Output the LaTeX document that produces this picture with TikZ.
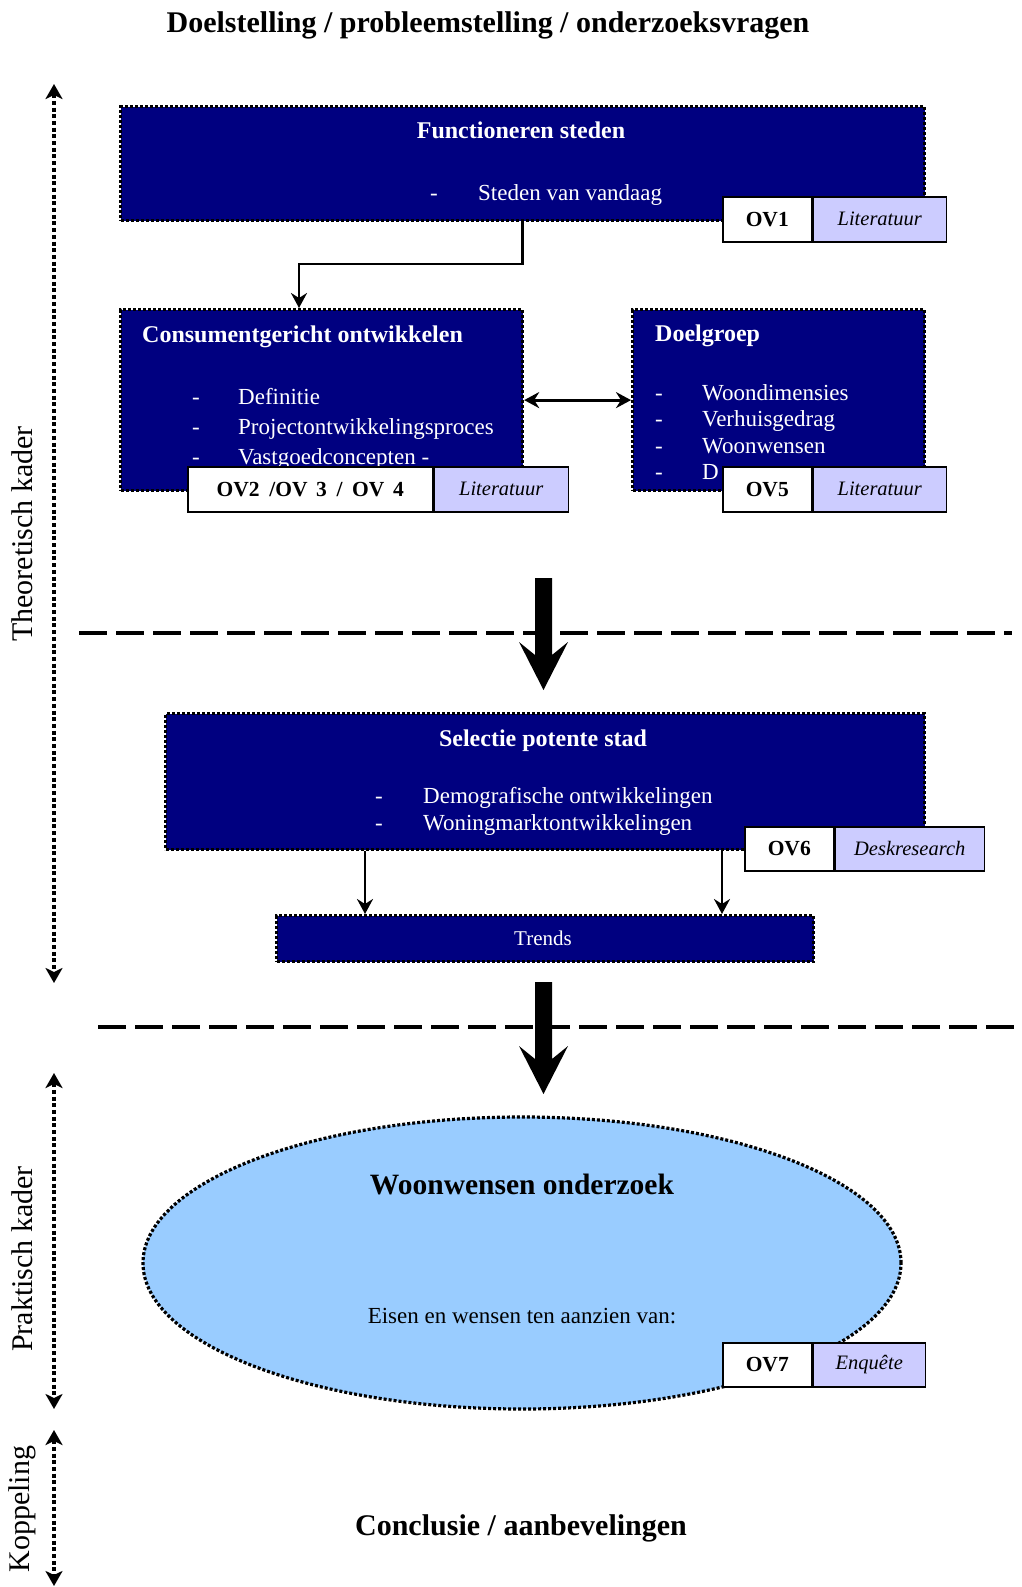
\documentclass[tikz,border=0pt]{standalone}
\usepackage{fontspec}
\setmainfont{Liberation Serif}
\usetikzlibrary{arrows.meta,shapes.geometric,calc}
\definecolor{navy}{RGB}{0,0,128}
\definecolor{ellblue}{RGB}{153,204,255}
\definecolor{lav}{RGB}{204,204,255}
\begin{document}
\begin{tikzpicture}[x=1pt,y=-1pt,
 dotborder/.style={draw=black,line width=3.2pt,dash pattern=on 3pt off 2pt},
 navybox/.style={dotborder,fill=navy,anchor=north west,inner sep=0pt},
 wt/.style={text=white,inner sep=0pt},
 ttl/.style={wt,font=\fontsize{24}{28}\selectfont\bfseries},
 itm/.style={wt,font=\fontsize{23}{27}\selectfont,anchor=mid west},
 tagl/.style={draw=black,line width=1.5pt,fill=white,anchor=north west,inner sep=0pt,font=\fontsize{21.5}{25}\selectfont\bfseries},
 tagr/.style={draw=black,line width=1.5pt,fill=lav,anchor=north west,inner sep=0pt,font=\fontsize{20.5}{24}\selectfont\itshape},
 conn/.style={line width=2.8pt,-{Stealth[length=15pt,width=16pt,inset=5pt]}},
 dconn/.style={line width=2.8pt,{Stealth[length=15pt,width=16pt,inset=5pt]}-{Stealth[length=15pt,width=16pt,inset=5pt]}},
 sidearrow/.style={line width=3.5pt,dash pattern=on 4pt off 2.7pt,{Stealth[length=15pt,width=17pt,inset=4pt]}-{Stealth[length=15pt,width=17pt,inset=4pt]}},
 sidelbl/.style={rotate=90,font=\fontsize{30}{34}\selectfont,inner sep=0pt},
 sepline/.style={line width=4pt,dash pattern=on 28pt off 9pt},
 bigarrow/.style={fill=black},
 head/.style={font=\fontsize{30}{34}\selectfont\bfseries,inner sep=0pt,anchor=mid},
]
\useasboundingbox (0,0) rectangle (1021,1587);

% title
\node[head] (title) at (488,30) {Doelstelling / probleemstelling / onderzoeksvragen};

% side arrows
\coordinate (s1a) at (54,84);
\coordinate (s1b) at (54,983);
\coordinate (s2a) at (54,1073);
\coordinate (s2b) at (54,1409);
\coordinate (s3a) at (54,1430);
\coordinate (s3b) at (54,1586);
\draw[sidearrow] (s1a) -- (s1b);
\draw[sidearrow] (s2a) -- (s2b);
\draw[sidearrow] (s3a) -- (s3b);
\node[sidelbl] (lt) at (22,534) {Theoretisch kader};
\node[sidelbl] (lp) at (22,1259) {Praktisch kader};
\node[sidelbl] (lk) at (22,1509) {Koppeling};

% separators
\coordinate (sp1a) at (79,633);
\coordinate (sp1b) at (1012,633);
\coordinate (sp2a) at (98,1027);
\coordinate (sp2b) at (1020,1027);
\draw[sepline] (sp1a) -- (sp1b);
\draw[sepline] (sp2a) -- (sp2b);

% box 1
\node[navybox,minimum width=804pt,minimum height=114pt] (box1) at (119,105) {};
\node[ttl,anchor=mid] (t1) at (521,136) {Functioneren steden};
\node[itm] (d1) at (430,198) {-};
\node[itm] (i1) at (478,198) {Steden van vandaag};

% box 2
\node[navybox,minimum width=402pt,minimum height=181pt] (box2) at (119,308) {};
\node[ttl,anchor=mid west] (t2) at (142,340) {Consumentgericht ontwikkelen};
\node[itm] (d21) at (192,402) {-};
\node[itm] (d22) at (192,432) {-};
\node[itm] (d23) at (192,462) {-};
\node[itm] (i21) at (238,402) {Definitie};
\node[itm] (i22) at (238,432) {Projectontwikkelingsproces};
\node[itm] (i23) at (238,462) {Vastgoedconcepten -};

% box 3
\node[navybox,minimum width=292pt,minimum height=181pt] (box3) at (631,308) {};
\node[ttl,anchor=mid west] (t3) at (655,339) {Doelgroep};
\node[itm] (d31) at (655,398) {-};
\node[itm] (d32) at (655,424.5) {-};
\node[itm] (d33) at (655,451) {-};
\node[itm] (d34) at (655,477.5) {-};
\node[itm] (i31) at (702,398) {Woondimensies};
\node[itm] (i32) at (702,424.5) {Verhuisgedrag};
\node[itm] (i33) at (702,451) {Woonwensen};
\node[itm] (i34) at (702,477.5) {D};

% connectors top
\coordinate (c1) at (299,264);
\draw[conn] (box1.south) |- (c1) -- (c1 |- box2.north);
\draw[dconn] (box2.east) -- (box3.west);

% tags top
\node[tagl,minimum width=89pt,minimum height=45pt] (ov1) at (722,196) {OV1};
\node[tagr,minimum width=133pt,minimum height=45pt] (lit1) at (ov1.north east) {Literatuur};
\node[tagl,minimum width=245pt,minimum height=45pt] (ov2) at (187,466) {OV2\hspace{0.45em}/OV\hspace{0.4em}3\hspace{0.45em}/\hspace{0.45em}OV\hspace{0.4em}4};
\node[tagr,minimum width=134pt,minimum height=45pt] (lit2) at (ov2.north east) {Literatuur};
\node[tagl,minimum width=89pt,minimum height=45pt] (ov5) at (722,466) {OV5};
\node[tagr,minimum width=133pt,minimum height=45pt] (lit5) at (ov5.north east) {Literatuur};

% big arrow 1
\fill[bigarrow] (535,578) -- (552,578) -- (552,655) -- (568,642) -- (543.5,690) -- (519,642) -- (535,655) -- cycle;

% box 4
\node[navybox,minimum width=759pt,minimum height=136pt] (box4) at (164,712) {};
\node[ttl,anchor=mid] (t4) at (543,744) {Selectie potente stad};
\node[itm] (d41) at (375,801) {-};
\node[itm] (d42) at (375,828) {-};
\node[itm] (i41) at (423,801) {Demografische ontwikkelingen};
\node[itm] (i42) at (423,828) {Woningmarktontwikkelingen};
\node[tagl,minimum width=89pt,minimum height=44pt] (ov6) at (744,826) {OV6};
\node[tagr,minimum width=149pt,minimum height=44pt] (lit6) at (ov6.north east) {Deskresearch};

% box 5
\node[navybox,minimum width=537pt,minimum height=46pt] (box5) at (275,914) {};
\node[wt,font=\fontsize{21}{25}\selectfont,anchor=mid] (t5) at (543,943) {Trends};
\coordinate (xa) at (365,0);
\coordinate (xb) at (722,0);
\draw[conn] (box4.south -| xa) -- (box5.north -| xa);
\draw[conn] (box4.south -| xb) -- (box5.north -| xb);

% big arrow 2
\fill[bigarrow] (535,982) -- (552,982) -- (552,1059) -- (568,1046) -- (543.5,1094) -- (519,1046) -- (535,1059) -- cycle;

% ellipse
\node[ellipse,dotborder,fill=ellblue,minimum width=758pt,minimum height=292pt,inner sep=0pt] (ell) at (522,1263) {};
\node[font=\fontsize{29.5}{33}\selectfont\bfseries,inner sep=0pt,anchor=mid] (t6) at (522,1192) {Woonwensen onderzoek};
\node[font=\fontsize{23}{27}\selectfont,inner sep=0pt,anchor=mid] (t7) at (522,1321) {Eisen en wensen ten aanzien van:};
\node[tagl,minimum width=89pt,minimum height=44pt] (ov7) at (722,1342) {OV7};
\node[tagr,minimum width=112pt,minimum height=44pt] (lit7) at (ov7.north east) {Enquête};

% conclusion
\node[head] (concl) at (521,1533) {Conclusie / aanbevelingen};
\end{tikzpicture}
\end{document}
